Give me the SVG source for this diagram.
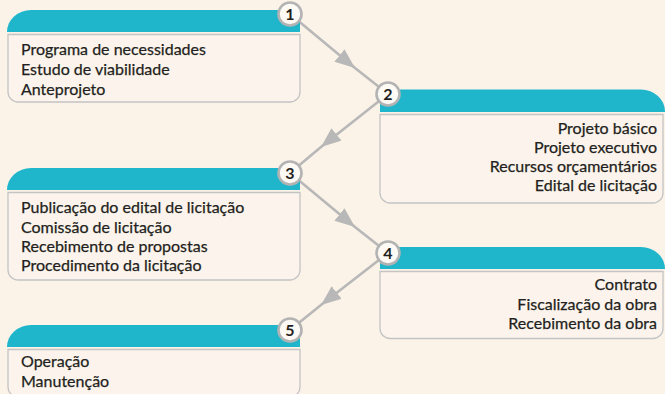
<svg xmlns="http://www.w3.org/2000/svg" width="665" height="394" viewBox="0 0 665 394">
  <style>
    .bg { fill: #fbf2e8; }
    .head { fill: #1fb6cc; }
    .body { fill: #fcf4ec; stroke: #c4c4c4; stroke-width: 1.3; }
    .item { font-family: Lato, "Open Sans", sans-serif; font-size: 16px; fill: #231f20; stroke: #231f20; stroke-width: 0.25; }
    .right { text-anchor: end; }
    .badge circle { fill: #fdfaf6; stroke: #b3b3b3; stroke-width: 2.6; }
    .badge text { font-family: Lato, "Open Sans", sans-serif; font-size: 16px; font-weight: 700; fill: #231f20; text-anchor: middle; }
    .link { fill: none; stroke: #b8b8b8; stroke-width: 2.6; marker-mid: url(#head); }
  </style>
  <defs>
    <marker id="head" viewBox="0 0 20 16" refX="20" refY="8" markerWidth="20" markerHeight="16" markerUnits="userSpaceOnUse" orient="auto">
      <path d="M0,0 L20,8 L0,16 Z" fill="#b8b8b8"/>
    </marker>
  </defs>

  <rect class="bg" x="0" y="0" width="665" height="394"/>

  <!-- connectors: each path bends at the arrow tip so the marker sits there -->
  <g id="connectors">
    <path class="link" d="M290,14 L355,68 L388,94"/>
    <path class="link" d="M388,94 L321,147 L290,173"/>
    <path class="link" d="M290,173 L355,227 L388,253"/>
    <path class="link" d="M388,253 L321,305 L290,330"/>
  </g>

  <g id="step1">
    <path class="head" d="M7,32 A24 22 0 0 1 31,10 H300 V32 Z"/>
    <path class="body" d="M8,34.5 H300 V92 A10 10 0 0 1 290,102 H18 A10 10 0 0 1 8,92 Z"/>
    <text class="item" x="21" y="55">Programa de necessidades</text>
    <text class="item" x="21" y="75">Estudo de viabilidade</text>
    <text class="item" x="21" y="95">Anteprojeto</text>
    <g class="badge"><circle cx="290" cy="14" r="11.5"/><text x="290" y="19.5">1</text></g>
  </g>

  <g id="step2">
    <path class="head" d="M380,89.5 H641 A24 22 0 0 1 665,111.5 V112 H380 Z"/>
    <path class="body" d="M380,114.5 H663 V193 A10 10 0 0 1 653,203 H390 A10 10 0 0 1 380,193 Z"/>
    <text class="item right" x="657" y="133.5">Projeto básico</text>
    <text class="item right" x="657" y="152.8">Projeto executivo</text>
    <text class="item right" x="657" y="172.1">Recursos orçamentários</text>
    <text class="item right" x="657" y="191.4">Edital de licitação</text>
    <g class="badge"><circle cx="388" cy="94" r="11.5"/><text x="388" y="99.5">2</text></g>
  </g>

  <g id="step3">
    <path class="head" d="M7,190 A24 22 0 0 1 31,168 H300 V190 Z"/>
    <path class="body" d="M8,192.5 H300 V270 A10 10 0 0 1 290,280 H18 A10 10 0 0 1 8,270 Z"/>
    <text class="item" x="21" y="213">Publicação do edital de licitação</text>
    <text class="item" x="21" y="232.5">Comissão de licitação</text>
    <text class="item" x="21" y="252">Recebimento de propostas</text>
    <text class="item" x="21" y="271">Procedimento da licitação</text>
    <g class="badge"><circle cx="290" cy="173" r="11.5"/><text x="290" y="178.5">3</text></g>
  </g>

  <g id="step4">
    <path class="head" d="M380,247 H641 A24 22 0 0 1 665,269 H380 Z"/>
    <path class="body" d="M380,271.5 H663 V328.5 A10 10 0 0 1 653,338.5 H390 A10 10 0 0 1 380,328.5 Z"/>
    <text class="item right" x="657" y="290">Contrato</text>
    <text class="item right" x="657" y="309.5">Fiscalização da obra</text>
    <text class="item right" x="657" y="329">Recebimento da obra</text>
    <g class="badge"><circle cx="388" cy="253" r="11.5"/><text x="388" y="258.5">4</text></g>
  </g>

  <g id="step5">
    <path class="head" d="M7,347 A24 22 0 0 1 31,325 H300 V347 Z"/>
    <path class="body" d="M8,349.5 H300 V387 A10 10 0 0 1 290,397 H18 A10 10 0 0 1 8,387 Z"/>
    <text class="item" x="21" y="367">Operação</text>
    <text class="item" x="21" y="387">Manutenção</text>
    <g class="badge"><circle cx="290" cy="330" r="11.5"/><text x="290" y="335.5">5</text></g>
  </g>
</svg>
